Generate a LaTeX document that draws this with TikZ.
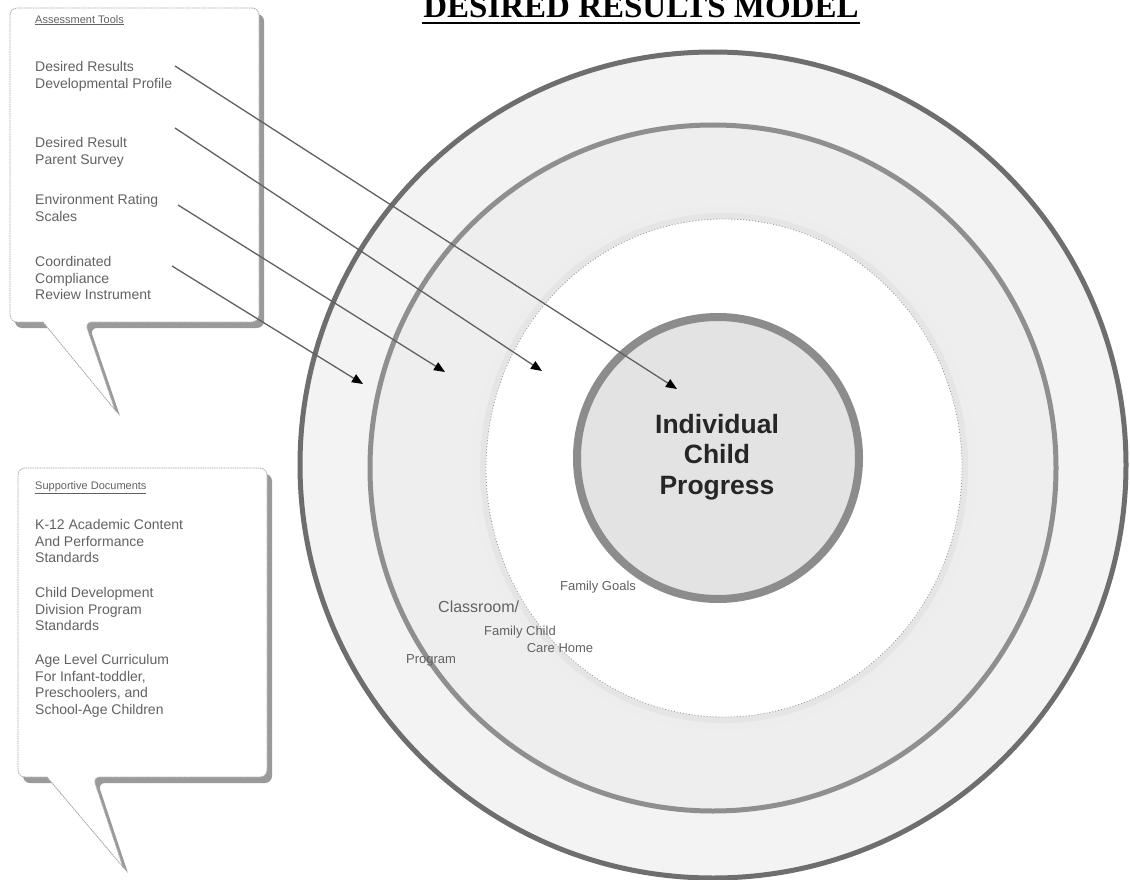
\documentclass[tikz,border=0pt]{standalone}
\usepackage{fontspec}
\setmainfont{Liberation Sans}
\newfontfamily\titlefont{Liberation Serif}
\usetikzlibrary{arrows.meta,calc}
\definecolor{txtgray}{HTML}{626262}
\definecolor{shadowgray}{HTML}{9A9A9A}
\definecolor{outerfill}{HTML}{F3F3F3}
\definecolor{midfill}{HTML}{EEEEEE}
\definecolor{innerfill}{HTML}{E3E3E3}
\begin{document}
\begin{tikzpicture}[x=1pt,y=-1pt,
  boxtext/.style={font=\fontsize{14}{16.8}\selectfont, text=txtgray, align=left, anchor=north west, inner sep=0pt},
  boxhead/.style={font=\fontsize{11}{13}\selectfont, text=txtgray, anchor=north west, inner sep=0pt},
  ringlabel/.style={font=\fontsize{13}{15}\selectfont, text=txtgray, inner sep=0pt},
  connector/.style={draw=black!62, line width=1.3pt, -{Triangle[length=11pt,width=9pt,color=black]}},
  bubbleshadow/.style={fill=shadowgray},
  bubble/.style={fill=white, draw=black!35, line width=0.8pt, dash pattern=on 1.5pt off 0.8pt}
]
\useasboundingbox (0,0) rectangle (1130,880);
\clip (0,0) rectangle (1130,880);
\fill[white] (0,0) rectangle (1130,880);

% title
\node[font=\titlefont\bfseries\fontsize{33}{33}\selectfont, anchor=base, inner sep=0pt] (title) at (641,18) {DESIRED RESULTS MODEL};
\draw[line width=2.6pt] ($(title.base west)+(-1,5)$) -- ($(title.base east)+(1,5)$);

% rings
\draw[fill=outerfill, draw=black!57, line width=5pt] (713,465) circle[radius=413];
\draw[fill=midfill, draw=black!44, line width=5pt] (713,468) circle[radius=343];
\draw[draw=black!7, line width=14pt] (724,468) ellipse[x radius=245, y radius=256];
\draw[draw=black!10, line width=6pt] (724,468) ellipse[x radius=241, y radius=252];
\fill[white] (724,468) ellipse[x radius=238, y radius=249];
\draw[draw=black!40, line width=0.8pt, dash pattern=on 1pt off 2pt] (724,468) ellipse[x radius=238, y radius=249];
\draw[fill=innerfill, draw=black!45, line width=8pt] (718,458) circle[radius=141];

\node[font=\bfseries\fontsize{26.5}{30.5}\selectfont, text=black!85, align=center, inner sep=0pt] (core) at (717,457) {Individual\\Child\\Progress};

\node[ringlabel] (famgoals) at (598,587) {Family Goals};
\node[ringlabel, font=\fontsize{16}{18}\selectfont, anchor=west] (classroom) at (438,607) {Classroom/};
\node[ringlabel] (famchild) at (520,632) {Family Child};
\node[ringlabel] (carehome) at (560,648) {Care Home};
\node[ringlabel] (program) at (431,660) {Program};

% callout 1
\fill[bubbleshadow] (90,328) -- (120,416) -- (48,328) [rounded corners=7pt] -- (15,328) -- (15,14) -- (264,14) -- (264,328) -- cycle;
\path[bubble] (85,322) -- (115,410) -- (43,322) [rounded corners=7pt] -- (10,322) -- (10,8) -- (259,8) -- (259,322) -- cycle;

\node[boxhead] (assess) at (35,15) {\underline{Assessment Tools}};
\node[boxtext] (drdp) at (35,61) {Desired Results\\Developmental Profile};
\node[boxtext] (drps) at (35,137) {Desired Result\\Parent Survey};
\node[boxtext] (ers) at (35,194) {Environment Rating\\Scales};
\node[boxtext] (ccri) at (35,256) {Coordinated\\Compliance\\Review Instrument};

% callout 2
\fill[bubbleshadow] (98,783) -- (128,873) -- (52,783) [rounded corners=7pt] -- (23,783) -- (23,474) -- (272,474) -- (272,783) -- cycle;
\path[bubble] (93,777) -- (123,867) -- (47,777) [rounded corners=7pt] -- (18,777) -- (18,468) -- (267,468) -- (267,777) -- cycle;

\node[boxhead] (support) at (35,481) {\underline{Supportive Documents}};
\node[boxtext] (k12) at (35,519) {K-12 Academic Content\\And Performance\\Standards};
\node[boxtext] (cdd) at (35,587) {Child Development\\Division Program\\Standards};
\node[boxtext] (age) at (35,654) {Age Level Curriculum\\For Infant-toddler,\\Preschoolers, and\\School-Age Children};

% connectors
\coordinate (s1) at ($(drdp.north west)+(140,5)$);
\coordinate (s2) at ($(drps.north west)+(140,-9)$);
\coordinate (s3) at ($(ers.north west)+(143,11)$);
\coordinate (s4) at ($(ccri.north west)+(137,10)$);
\coordinate (t1) at (677,389);
\coordinate (t2) at (542,371);
\coordinate (t3) at (445,372);
\coordinate (t4) at (363,384);
\draw[connector] (s1) -- (t1);
\draw[connector] (s2) -- (t2);
\draw[connector] (s3) -- (t3);
\draw[connector] (s4) -- (t4);
\end{tikzpicture}
\end{document}
